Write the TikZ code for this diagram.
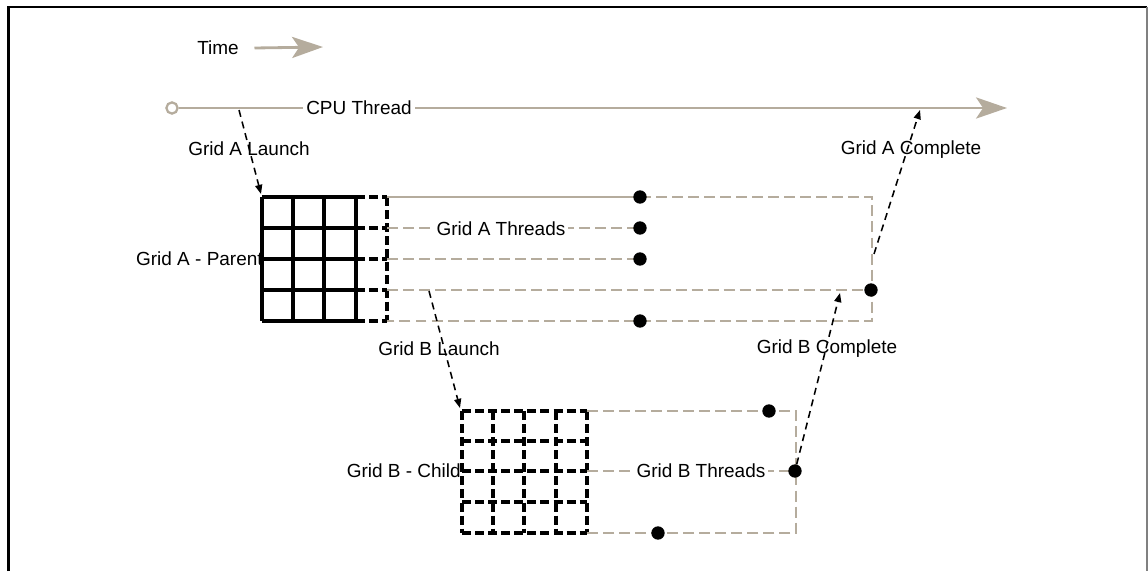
\documentclass[tikz,border=0pt]{standalone}
\usepackage{fontspec}
\setmainfont{Liberation Sans}
\usepackage{xcolor}
\usetikzlibrary{arrows.meta,positioning,calc}
\definecolor{threadgrey}{RGB}{181,172,157}
\tikzstyle{txt} = [font=\fontsize{13.5}{16}\selectfont, inner sep=1pt]
\tikzstyle{linelabel} = [txt, fill=white, inner sep=2pt]
\tikzstyle{gridsolid} = [black, line width=2.4pt]
\tikzstyle{griddash} = [black, line width=2.2pt, dash pattern=on 6.4pt off 2.9pt]
\tikzstyle{threadsolid} = [threadgrey, line width=2pt]
\tikzstyle{threaddash} = [threadgrey, line width=2pt, dash pattern=on 7.8pt off 3.6pt]
\tikzstyle{timearrow} = [threadgrey, line width=2pt, -{Stealth[length=22pt,width=15pt,inset=5pt]}]
\tikzstyle{launch} = [black, line width=1.1pt, dash pattern=on 5pt off 3.5pt, -{Triangle[length=6.5pt,width=5pt]}]
\tikzstyle{dot} = [circle, fill=black, inner sep=0pt, minimum size=9.5pt]

\begin{document}
\begin{tikzpicture}[x=0.025cm, y=-0.025cm]
\useasboundingbox (0,0) rectangle (1148,571);

\draw[black, line width=1.8pt] (8.5,571) -- (8.5,7) -- (1147,7);
\draw[gray, line width=0.8pt] (1147,7) -- (1147,571);

\node[txt] (time) at (218,48) {Time};
\coordinate (timeend) at (323,47);
\draw[timearrow] (time.east) ++(10pt,0) coordinate (timestart) -- (timeend);

\node[circle, draw=threadgrey, fill=white, line width=1.6pt, inner sep=0pt, minimum size=8pt] (cpustart) at (172,108) {};
\coordinate (cpuend) at (1007,108);
\draw[timearrow] (cpustart) -- (cpuend);
\node[linelabel] (cpu) at (359,108) {CPU Thread};

\foreach \y in {197,228,259,290,321} \draw[gridsolid] (262,\y) -- (356,\y);
\foreach \x in {262,293,324,356} \draw[gridsolid] (\x,197) -- (\x,321);
\foreach \y in {197,228,259,290,321} \draw[griddash] (356,\y) -- (387,\y);
\draw[griddash] (387,197) -- (387,321);
\node[txt, anchor=east, inner sep=0pt] (gridA) at (263,259) {Grid A - Parent};

\coordinate (a0) at (387,197);
\coordinate (a1) at (387,228);
\coordinate (a2) at (387,259);
\coordinate (a3) at (387,290);
\coordinate (a4) at (387,321);
\coordinate (acorner) at (872,197);
\coordinate (acornerlow) at (872,321);
\coordinate (adot0) at (640,197);
\coordinate (adot1) at (640,228);
\coordinate (adot2) at (640,259);
\coordinate (adot3) at (871,290);
\coordinate (adot4) at (640,321);
\draw[threadsolid] (a0) -- (adot0);
\draw[threaddash] (adot0) -- (acorner) -- (acornerlow) -- (a4);
\draw[threaddash] (a1) -- (adot1);
\draw[threaddash] (a2) -- (adot2);
\draw[threaddash] (a3) -- (adot3);
\node[linelabel] (athreads) at (501,229) {Grid A Threads};

\foreach \y in {411,441,471,502,533} \draw[griddash] (462,\y) -- (587,\y);
\foreach \x in {462,493,524,556,587} \draw[griddash] (\x,411) -- (\x,533);
\node[txt, anchor=east, inner sep=0pt] (gridB) at (461,471) {Grid B - Child};

\coordinate (b0) at (587,411);
\coordinate (b2) at (587,471);
\coordinate (b4) at (587,533);
\coordinate (bcorner) at (796,411);
\coordinate (bcornerlow) at (796,533);
\coordinate (bdot0) at (769,411);
\coordinate (bdot2) at (795,471);
\coordinate (bdot4) at (658,533);
\draw[threaddash] (b0) -- (bcorner) -- (bcornerlow) -- (b4);
\draw[threaddash] (b2) -- (bdot2);
\node[linelabel] (bthreads) at (701,471) {Grid B Threads};

\foreach \d in {adot0,adot1,adot2,adot3,adot4,bdot0,bdot2,bdot4}
  \node[dot] (\d-mark) at (\d) {};

\coordinate (alaunch) at (239,110);
\coordinate (agrid) at (261,194);
\draw[launch] (alaunch) -- (agrid);
\node[txt] (alaunchlbl) at (249,149) {Grid A Launch};

\coordinate (blaunch) at (429,291);
\coordinate (bgrid) at (460,408);
\draw[launch] (blaunch) -- (bgrid);
\node[txt] (blaunchlbl) at (439,349) {Grid B Launch};

\coordinate (bdone) at (840,293);
\draw[launch] (bdot2-mark) -- (bdone);
\node[txt] (bdonelbl) at (827,349) {Grid B Complete};

\coordinate (adonestart) at (874,254);
\coordinate (adone) at (920,110);
\draw[launch] (adonestart) -- (adone);
\node[txt] (adonelbl) at (911,150) {Grid A Complete};
\end{tikzpicture}
\end{document}
